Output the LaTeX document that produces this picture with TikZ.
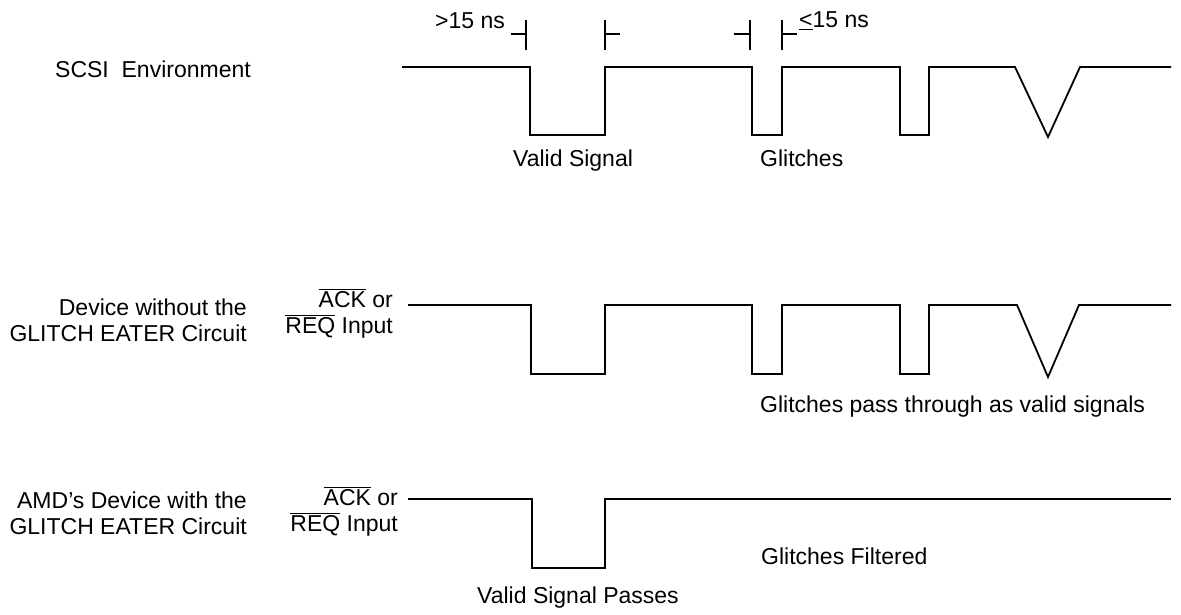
\documentclass[tikz,border=0pt]{standalone}
\usepackage{fontspec}
\setmainfont{Liberation Sans}
\newcommand\ovbar[1]{$\overline{\hbox{#1}}$}
\begin{document}
\begin{tikzpicture}[x=1pt,y=-1pt,
  wave/.style={line width=1.8pt,line join=miter},
  tick/.style={line width=1.8pt},
  lbl/.style={inner sep=0pt,font=\fontsize{23}{27}\selectfont},
  lblw/.style={lbl,anchor=base west},
  lble/.style={lbl,anchor=base east}]
\useasboundingbox (0,0) rectangle (1181,615);
% top waveform
\draw[wave] (402,67) -- (530,67) -- (530,135) -- (605,135) -- (605,67) -- (752,67) -- (752,135) -- (782,135) -- (782,67)
  -- (900,67) -- (900,135) -- (929,135) -- (929,67) -- (1015,67) -- (1048,137) -- (1080,67) -- (1171,67);
% markers
\draw[tick] (526,20) -- (526,50) (511,34) -- (526,34);
\draw[tick] (605,20) -- (605,50) (605,34) -- (620,34);
\draw[tick] (750,20) -- (750,50) (734,34) -- (750,34);
\draw[tick] (782,20) -- (782,50) (782,34) -- (797,34);
\node[lblw] (gt) at (435,29) {>15 ns};
\node[lblw] (le) at (799,28) {\underline{<}15 ns};
\node[lblw] (scsi) at (55,78) {SCSI\ \ Environment};
\node[lblw] (vs) at (513,167) {Valid Signal};
\node[lblw] (gl) at (760,167) {Glitches};
% second waveform
\draw[wave] (408,305) -- (531,305) -- (531,374) -- (605,374) -- (605,305) -- (752,305) -- (752,374) -- (782,374) -- (782,305)
  -- (900,305) -- (900,374) -- (929,374) -- (929,305) -- (1017,305) -- (1048,377) -- (1079,305) -- (1171,305);
\node[lble] (dw1) at (247,315) {Device without the};
\node[lble] (dw2) at (247,341) {GLITCH EATER Circuit};
\node[lble] (ack1) at (393,307) {\ovbar{ACK} or};
\node[lble] (req1) at (393,333) {\ovbar{REQ} Input};
\node[lblw] (pass) at (760,412) {Glitches pass through as valid signals};
% third waveform
\draw[wave] (408,499) -- (532,499) -- (532,568) -- (605,568) -- (605,499) -- (1171,499);
\node[lble] (amd1) at (247,508) {AMD’s Device with the};
\node[lble] (amd2) at (247,534) {GLITCH EATER Circuit};
\node[lble] (ack2) at (398,505) {\ovbar{ACK} or};
\node[lble] (req2) at (398,531) {\ovbar{REQ} Input};
\node[lblw] (filt) at (761,564) {Glitches Filtered};
\node[lblw] (vsp) at (477,603) {Valid Signal Passes};
\end{tikzpicture}
\end{document}
